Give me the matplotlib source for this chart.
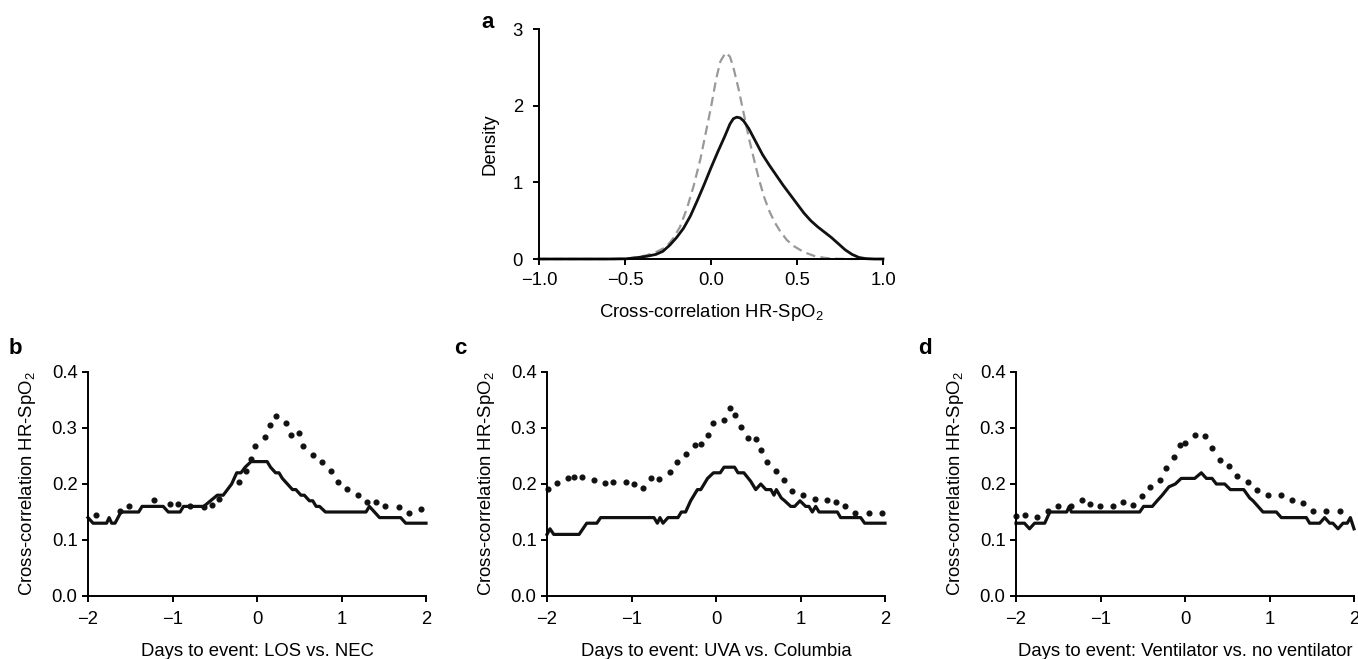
import matplotlib
matplotlib.use("Agg")
import matplotlib.pyplot as plt

plt.rcParams['font.family'] = ['Liberation Sans', 'DejaVu Sans']
plt.rcParams['mathtext.default'] = 'regular'
plt.rcParams['font.size'] = 13.3

# ---- panel a: density of cross-correlation
a_x_solid = [-1.0, -0.6, -0.49, -0.43, -0.375, -0.32, -0.28, -0.24, -0.20, -0.16, -0.12, -0.08,
             -0.04, 0.0, 0.04, 0.08, 0.11, 0.13, 0.15, 0.17, 0.19, 0.22, 0.26, 0.30, 0.34, 0.38,
             0.42, 0.46, 0.50, 0.54, 0.58, 0.62, 0.66, 0.70, 0.74, 0.78, 0.82, 0.86, 0.90, 0.95, 1.0]
a_y_solid = [0, 0, 0.003, 0.018, 0.035, 0.06, 0.10, 0.18, 0.28, 0.40, 0.56, 0.76,
             0.97, 1.19, 1.40, 1.60, 1.76, 1.83, 1.85, 1.84, 1.80, 1.70, 1.53, 1.36, 1.22, 1.09,
             0.96, 0.84, 0.72, 0.60, 0.50, 0.42, 0.35, 0.28, 0.20, 0.12, 0.06, 0.02, 0.005, 0, 0]
a_x_dash = [-1.0, -0.55, -0.50, -0.44, -0.375, -0.32, -0.26, -0.22, -0.18, -0.14, -0.10, -0.06,
            -0.03, 0.0, 0.03, 0.055, 0.085, 0.11, 0.13, 0.16, 0.19, 0.22, 0.25, 0.28, 0.31, 0.34,
            0.37, 0.40, 0.44, 0.48, 0.54, 0.60, 0.66, 0.72, 0.80, 1.0]
a_y_dash = [0, 0, 0.004, 0.02, 0.048, 0.09, 0.157, 0.27, 0.42, 0.66, 0.96, 1.32,
            1.65, 1.98, 2.35, 2.58, 2.69, 2.64, 2.50, 2.22, 1.90, 1.58, 1.30, 1.03, 0.80, 0.62,
            0.48, 0.37, 0.25, 0.17, 0.09, 0.04, 0.015, 0.004, 0, 0]

# ---- panel b: LOS vs NEC
b_x_solid = [-2.0, -1.94, -1.78, -1.75, -1.72, -1.68, -1.61, -1.40, -1.36, -1.11, -1.05, -0.91,
             -0.87, -0.63, -0.55, -0.47, -0.40, -0.35, -0.30, -0.24, -0.19, -0.14, -0.07, 0.12,
             0.16, 0.22, 0.26, 0.30, 0.36, 0.42, 0.46, 0.52, 0.56, 0.62, 0.66, 0.70, 0.74, 0.81,
             1.29, 1.33, 1.39, 1.45, 1.70, 1.76, 2.0]
b_y_solid = [0.14, 0.13, 0.13, 0.14, 0.13, 0.13, 0.15, 0.15, 0.16, 0.16, 0.15, 0.15,
             0.16, 0.16, 0.17, 0.18, 0.18, 0.19, 0.20, 0.22, 0.22, 0.23, 0.24, 0.24,
             0.23, 0.22, 0.22, 0.21, 0.20, 0.19, 0.19, 0.18, 0.18, 0.17, 0.17, 0.16, 0.16, 0.15,
             0.15, 0.16, 0.15, 0.14, 0.14, 0.13, 0.13]
b_x_dot = [-1.90, -1.62, -1.51, -1.22, -1.03, -0.94, -0.79, -0.63, -0.53, -0.45, -0.21, -0.13,
           -0.07, -0.02, 0.09, 0.15, 0.22, 0.34, 0.40, 0.50, 0.55, 0.66, 0.77, 0.87, 0.96,
           1.07, 1.19, 1.30, 1.41, 1.52, 1.68, 1.80, 1.94]
b_y_dot = [0.145, 0.151, 0.160, 0.171, 0.164, 0.164, 0.160, 0.159, 0.162, 0.174, 0.203, 0.224,
           0.245, 0.268, 0.284, 0.305, 0.322, 0.309, 0.288, 0.291, 0.268, 0.251, 0.240, 0.223, 0.203,
           0.191, 0.181, 0.168, 0.167, 0.160, 0.159, 0.149, 0.155]

# ---- panel c: UVA vs Columbia
c_x_solid = [-2.0, -1.965, -1.92, -1.62, -1.53, -1.41, -1.365, -0.734, -0.694, -0.663, -0.627,
             -0.568, -0.45, -0.41, -0.36, -0.30, -0.22, -0.18, -0.10, -0.03, 0.05, 0.095, 0.22,
             0.26, 0.33, 0.41, 0.47, 0.53, 0.59, 0.65, 0.686, 0.714, 0.773, 0.813, 0.884, 0.931,
             0.994, 1.061, 1.10, 1.14, 1.18, 1.22, 1.436, 1.475, 1.712, 1.759, 2.0]
c_y_solid = [0.11, 0.12, 0.11, 0.11, 0.13, 0.13, 0.14, 0.14, 0.13, 0.14, 0.13,
             0.14, 0.14, 0.15, 0.15, 0.17, 0.19, 0.19, 0.21, 0.22, 0.22, 0.23, 0.23,
             0.22, 0.22, 0.205, 0.19, 0.20, 0.19, 0.19, 0.18, 0.19, 0.175, 0.17, 0.16, 0.16,
             0.17, 0.16, 0.16, 0.15, 0.16, 0.15, 0.15, 0.14, 0.14, 0.13, 0.13]
c_x_dot = [-1.99, -1.88, -1.75, -1.68, -1.58, -1.44, -1.31, -1.22, -1.07, -0.97, -0.86, -0.77,
           -0.67, -0.55, -0.46, -0.35, -0.25, -0.18, -0.10, -0.03, 0.10, 0.17, 0.23, 0.29,
           0.38, 0.47, 0.53, 0.60, 0.71, 0.81, 0.90, 1.03, 1.17, 1.31, 1.42, 1.53, 1.65,
           1.81, 1.97]
c_y_dot = [0.191, 0.202, 0.210, 0.212, 0.212, 0.208, 0.201, 0.203, 0.203, 0.200, 0.193, 0.210,
           0.209, 0.221, 0.239, 0.254, 0.270, 0.271, 0.287, 0.309, 0.314, 0.336, 0.324, 0.302,
           0.282, 0.280, 0.260, 0.239, 0.223, 0.208, 0.188, 0.180, 0.173, 0.171, 0.167, 0.160, 0.149,
           0.149, 0.149]

# ---- panel d: ventilator vs no ventilator
d_x_solid = [-2.0, -1.90, -1.84, -1.78, -1.66, -1.60, -1.40, -1.37, -1.345, -0.536, -0.49,
             -0.387, -0.33, -0.27, -0.19, -0.115, -0.045, 0.115, 0.193, 0.253, 0.32, 0.371,
             0.47, 0.537, 0.695, 0.766, 0.805, 0.923, 1.081, 1.14, 1.436, 1.475, 1.594, 1.653,
             1.712, 1.75, 1.811, 1.87, 1.92, 1.957, 2.0]
d_y_solid = [0.13, 0.13, 0.12, 0.13, 0.13, 0.15, 0.15, 0.16, 0.15, 0.15, 0.16,
             0.16, 0.17, 0.18, 0.195, 0.20, 0.21, 0.21, 0.22, 0.21, 0.21, 0.20,
             0.20, 0.19, 0.19, 0.175, 0.17, 0.15, 0.15, 0.14, 0.14, 0.13, 0.13, 0.14,
             0.13, 0.13, 0.12, 0.13, 0.13, 0.14, 0.12]
d_x_dot = [-2.0, -1.89, -1.75, -1.62, -1.50, -1.355, -1.22, -1.12, -1.01, -0.85, -0.73, -0.62,
           -0.51, -0.41, -0.30, -0.22, -0.13, -0.06, 0.00, 0.115, 0.24, 0.32, 0.41, 0.52,
           0.62, 0.75, 0.85, 0.98, 1.14, 1.27, 1.40, 1.51, 1.67, 1.83]
d_y_dot = [0.142, 0.145, 0.141, 0.151, 0.160, 0.161, 0.171, 0.164, 0.160, 0.160, 0.168, 0.163,
           0.178, 0.194, 0.208, 0.229, 0.249, 0.270, 0.273, 0.288, 0.285, 0.264, 0.243, 0.232,
           0.214, 0.204, 0.189, 0.181, 0.181, 0.171, 0.166, 0.151, 0.151, 0.151]

W, H = 1358, 659
fig = plt.figure(figsize=(W / 100, H / 100), dpi=100)


def style_axes(ax, xpad, ypad):
    for side in ['top', 'right']:
        ax.spines[side].set_visible(False)
    for side in ['left', 'bottom']:
        ax.spines[side].set_linewidth(1.4)
    ax.tick_params(direction='out', length=4.5, width=1.4, labelsize=13.3)
    ax.tick_params(axis='x', pad=xpad)
    ax.tick_params(axis='y', pad=ypad)


# panel a
axa = fig.add_axes([539 / W, 1 - 259 / H, 344 / W, 230 / H])
axa.plot(a_x_dash, a_y_dash, color='#999999', lw=1.6, ls=(0, (4.2, 2.4)), clip_on=False)
axa.plot(a_x_solid, a_y_solid, color='#111111', lw=2.0, clip_on=False)
axa.set_xlim(-1, 1)
axa.set_ylim(0, 3)
axa.set_xticks([-1.0, -0.5, 0.0, 0.5, 1.0])
axa.set_xticklabels(['\u22121.0', '\u22120.5', '0.0', '0.5', '1.0'])
axa.set_yticks([0, 1, 2, 3])
style_axes(axa, 5, 7)
axa.set_xlabel('Cross-correlation HR-SpO$_2$', labelpad=9)
axa.set_ylabel('Density', labelpad=10)
fig.text(488 / W, 1 - 22 / H, 'a', fontsize=16, fontweight='bold', ha='center', va='center')

panels = [
    (88, 'b', 15, b_x_solid, b_y_solid, b_x_dot, b_y_dot, 'Days to event: LOS vs. NEC'),
    (547, 'c', 460, c_x_solid, c_y_solid, c_x_dot, c_y_dot, 'Days to event: UVA vs. Columbia'),
    (1016, 'd', 925, d_x_solid, d_y_solid, d_x_dot, d_y_dot, 'Days to event: Ventilator vs. no ventilator'),
]
for left, lab, labx, xs, ys, xd, yd, xlabel in panels:
    ax = fig.add_axes([left / W, 1 - 596 / H, 338 / W, 224 / H])
    ax.plot(xd, yd, ls='none', marker='o', ms=3.4, color='#111111', clip_on=False)
    ax.plot(xs, ys, color='#111111', lw=2.3, clip_on=False)
    ax.set_xlim(-2, 2)
    ax.set_ylim(0, 0.4)
    ax.set_xticks([-2, -1, 0, 1, 2])
    ax.set_xticklabels(['\u22122', '\u22121', '0', '1', '2'])
    ax.set_yticks([0.0, 0.1, 0.2, 0.3, 0.4])
    ax.set_yticklabels(['0.0', '0.1', '0.2', '0.3', '0.4'])
    style_axes(ax, 6, 3)
    ax.set_xlabel(xlabel, labelpad=11)
    ax.set_ylabel('Cross-correlation HR-SpO$_2$', labelpad=10)
    fig.text(labx / W, 1 - 348 / H, lab, fontsize=16, fontweight='bold', ha='center', va='center')

fig.savefig('out.png', dpi=100)
